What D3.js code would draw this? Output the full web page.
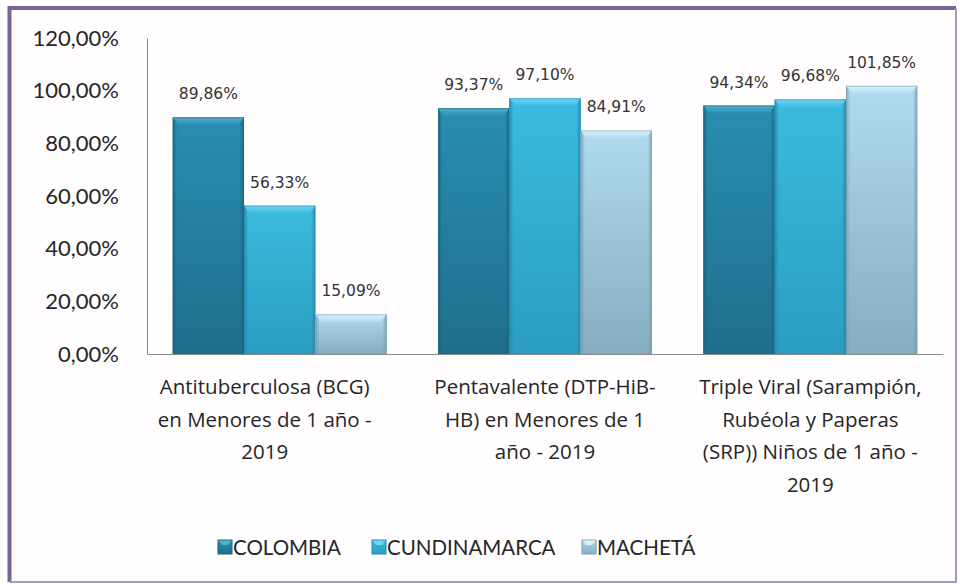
<!DOCTYPE html>
<html>
<head>
<meta charset="utf-8">
<script src="https://cdn.jsdelivr.net/npm/d3@7"></script>
<style>
  body { margin: 0; background: #fff; }
  svg { display: block; }
</style>
</head>
<body>
<div id="chart"></div>
<script>
// categories (one entry per group, split into the lines shown under the axis)
const categories = [
  ["Antituberculosa (BCG)", "en Menores de 1 año -", "2019"],
  ["Pentavalente (DTP-HiB-", "HB) en Menores de 1", "año - 2019"],
  ["Triple Viral (Sarampión,", "Rubéola y Paperas", "(SRP)) Niños de 1 año -", "2019"]
]
const seriesNames = ["COLOMBIA", "CUNDINAMARCA", "MACHETÁ"]
const colombia = [89.86, 93.37, 94.34]
const cundinamarca = [56.33, 97.10, 96.68]
const macheta = [15.09, 84.91, 101.85]
const yTicks = [0, 20, 40, 60, 80, 100, 120]

const width = 960
const height = 584
const margin = { top: 38, right: 17, bottom: 230, left: 147 }

// colours for each series: body top, body bottom, bevel, edge
const palette = [
  { top: "#2a8db0", bottom: "#1f6f8c", bevel: "#4fb0cf", edge: "#1b6480" },
  { top: "#3bbbe0", bottom: "#2b9dc2", bevel: "#74d4ef", edge: "#2689ac" },
  { top: "#b0dbee", bottom: "#86acbf", bevel: "#d8f1fa", edge: "#7a9fb2" }
]

const locale = d3.formatLocale({ decimal: ",", thousands: ".", grouping: [3], currency: ["", ""] })
const pct = v => locale.format(".2f")(v) + "%"

const values = [colombia, cundinamarca, macheta]
const rows = []
categories.forEach((c, ci) => {
  seriesNames.forEach((s, si) => rows.push({ ci, si, value: values[si][ci] }))
})

const svg = d3.select("#chart").append("svg")
  .attr("width", width)
  .attr("height", height)

// outer frame
svg.append("rect")
  .attr("x", 9.5).attr("y", 8).attr("width", 946).attr("height", 573.5)
  .attr("fill", "#fffdfd")
svg.append("path")
  .attr("d", "M9.5,582 V8 H956")
  .attr("fill", "none").attr("stroke", "#7a6497").attr("stroke-width", 4)
svg.append("path")
  .attr("d", "M956,8 V582 H9.5")
  .attr("fill", "none").attr("stroke", "#a797bd").attr("stroke-width", 2)

const defs = svg.append("defs")
palette.forEach((p, i) => {
  const g = defs.append("linearGradient").attr("id", "body" + i)
    .attr("x1", 0).attr("y1", 0).attr("x2", 0).attr("y2", 1)
  g.append("stop").attr("offset", 0).attr("stop-color", p.top)
  g.append("stop").attr("offset", 1).attr("stop-color", p.bottom)
  const h = defs.append("linearGradient").attr("id", "side" + i)
    .attr("x1", 0).attr("y1", 0).attr("x2", 1).attr("y2", 0)
  h.append("stop").attr("offset", 0).attr("stop-color", p.edge).attr("stop-opacity", 0.9)
  h.append("stop").attr("offset", 0.06).attr("stop-color", p.edge).attr("stop-opacity", 0)
  h.append("stop").attr("offset", 0.94).attr("stop-color", p.edge).attr("stop-opacity", 0)
  h.append("stop").attr("offset", 1).attr("stop-color", p.edge).attr("stop-opacity", 0.9)
  const b = defs.append("linearGradient").attr("id", "bevel" + i)
    .attr("x1", 0).attr("y1", 0).attr("x2", 0).attr("y2", 1)
  b.append("stop").attr("offset", 0).attr("stop-color", p.bevel)
  b.append("stop").attr("offset", 1).attr("stop-color", p.top)
})

const x0 = d3.scaleBand()
  .domain(d3.range(categories.length))
  .range([margin.left, width - margin.right])
  .paddingInner(0.194)
  .paddingOuter(0.097)

const x1 = d3.scaleBand()
  .domain(d3.range(seriesNames.length))
  .range([0, x0.bandwidth()])

const y = d3.scaleLinear()
  .domain([0, 120])
  .range([354, margin.top])

// bars
const bars = svg.append("g").selectAll("g")
  .data(rows)
  .join("g")
  .attr("transform", d => `translate(${x0(d.ci) + x1(d.si)},0)`)

const bw = x1.bandwidth()
bars.append("rect")
  .attr("y", d => y(d.value))
  .attr("width", bw)
  .attr("height", d => y(0) - y(d.value))
  .attr("fill", d => `url(#body${d.si})`)
bars.append("rect")
  .attr("y", d => y(d.value))
  .attr("width", bw)
  .attr("height", d => y(0) - y(d.value))
  .attr("fill", d => `url(#side${d.si})`)
// top bevel
bars.append("path")
  .attr("d", d => {
    const t = y(d.value)
    return `M0,${t} H${bw} L${bw - 6},${t + 8} H6 Z`
  })
  .attr("fill", d => `url(#bevel${d.si})`)
bars.append("rect")
  .attr("x", 0.5)
  .attr("y", d => y(d.value) + 0.5)
  .attr("width", bw - 1)
  .attr("height", d => y(0) - y(d.value) - 0.5)
  .attr("fill", "none")
  .attr("stroke", d => palette[d.si].edge)
  .attr("stroke-opacity", 0.5)

// value labels
bars.append("text")
  .attr("x", bw / 2)
  .attr("y", d => y(d.value) - 18)
  .attr("text-anchor", "middle")
  .attr("font-family", "DejaVu Sans, Verdana, sans-serif")
  .attr("font-size", 15.5)
  .attr("fill", "#333")
  .text(d => pct(d.value))

// axes
const yAxis = svg.append("g")
  .attr("transform", `translate(${margin.left},0)`)
  .call(d3.axisLeft(y).tickValues(yTicks).tickSize(0).tickPadding(28).tickFormat(pct))
yAxis.select(".domain").attr("stroke", "#8a8a8a")
yAxis.selectAll("text")
  .attr("font-family", "Lato, sans-serif")
  .attr("font-size", 22)
  .attr("fill", "#262626")

const xAxis = svg.append("g")
  .attr("transform", `translate(0,${y(0)})`)
  .call(d3.axisBottom(x0).tickSize(0).tickFormat(""))
xAxis.select(".domain").attr("stroke", "#8a8a8a")
xAxis.selectAll(".tick").each(function (i) {
  // first label sits a little left of its group, as in the original
  const dx = i === 0 ? -15 : 0
  const t = d3.select(this).append("text")
    .attr("text-anchor", "middle")
    .attr("font-family", "Open Sans, sans-serif")
    .attr("font-size", 20.5)
    .attr("fill", "#262626")
  categories[i].forEach((line, k) => {
    t.append("tspan").attr("x", dx).attr("y", 40 + k * 32.5).text(line)
  })
})

// legend
const legendX = [218, 372, 582]
const legend = svg.append("g").selectAll("g")
  .data(seriesNames)
  .join("g")
  .attr("transform", (d, i) => `translate(${legendX[i]},547)`)
legend.append("rect")
  .attr("x", 0).attr("y", -7).attr("width", 14).attr("height", 14)
  .attr("fill", (d, i) => `url(#body${i})`)
  .attr("stroke", (d, i) => palette[i].edge)
legend.append("path")
  .attr("d", "M0.5,-6.5 H13.5 L10,-2 H4 Z")
  .attr("fill", (d, i) => palette[i].bevel)
legend.append("text")
  .attr("x", 15)
  .attr("y", 7.5)
  .attr("font-family", "Lato, sans-serif")
  .attr("font-size", 20.5)
  .attr("fill", "#262626")
  .text(d => d)
</script>
</body>
</html>
